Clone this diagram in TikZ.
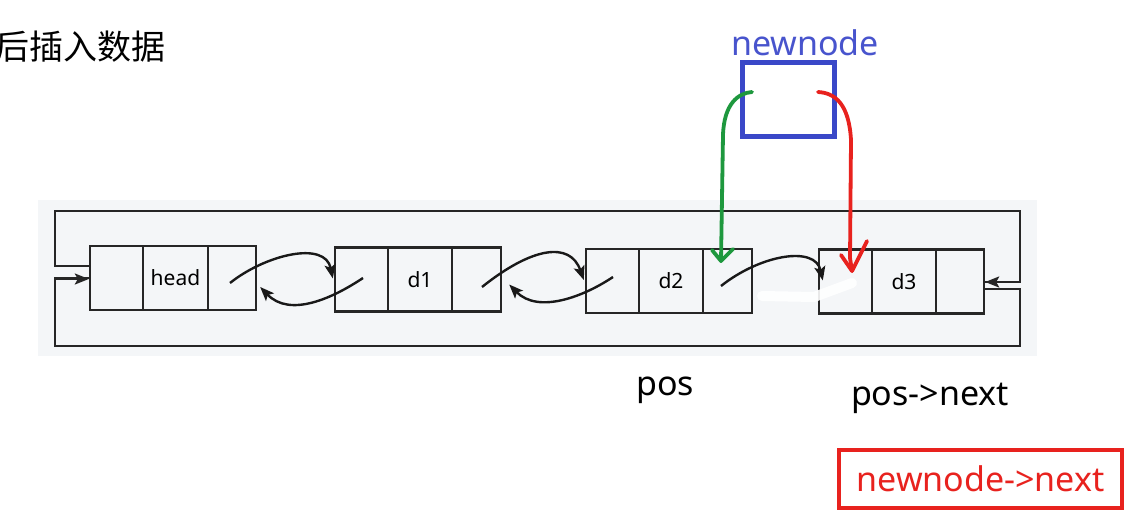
\documentclass[tikz,border=0pt]{standalone}
\usepackage{fontspec}
\setmainfont{Noto Sans}
\newfontfamily\cjk{Noto Sans CJK SC}
\usetikzlibrary{arrows.meta,calc}
\definecolor{panel}{HTML}{F4F6F8}
\definecolor{nblue}{RGB}{58,72,200}
\definecolor{ntext}{RGB}{72,84,205}
\definecolor{ngreen}{RGB}{30,152,62}
\definecolor{nred}{RGB}{232,34,30}
\tikzset{
  tip/.tip={Stealth[length=14pt,width=11pt,inset=3pt]},
  cell/.style={draw=black!85, line width=2.4pt, inner sep=0, minimum height=64, font=\fontsize{21}{24}\selectfont},
  link/.style={line width=2.4pt, draw=black!90, -tip},
  loopline/.style={line width=2.4pt, draw=black!85},
  biglabel/.style={inner sep=0, font=\fontsize{34}{40}\selectfont},
  pen/.style={line width=3.8pt, line cap=round, line join=round},
}
\begin{document}
\begin{tikzpicture}[x=1pt,y=-1pt]
\useasboundingbox (0,0) rectangle (1137,513);
\fill[white] (0,0) rectangle (1137,513);
\fill[panel] (38,200) rectangle (1037,356);

% list elements
\node[cell, minimum width=53] (hp) at (116.5,278) {};
\node[cell, minimum width=65] (hd) at (175.5,278) {head};
\node[cell, minimum width=48] (hn) at (232,278) {};

\node[cell, minimum width=53] (ap) at (361.5,279.5) {};
\node[cell, minimum width=64] (ad) at (420,279.5) {d1};
\node[cell, minimum width=49] (an) at (476.5,279.5) {};

\node[cell, minimum width=53] (bp) at (612.5,281) {};
\node[cell, minimum width=64] (bd) at (671,281) {d2};
\node[cell, minimum width=49] (bn) at (727.5,281) {};

\node[cell, minimum width=53] (cp) at (845.5,281.5) {};
\node[cell, minimum width=64] (cd) at (904,281.5) {d3};
\node[cell, minimum width=48] (cn) at (960,281.5) {};

% loop lines
\coordinate (lt) at (55,211);
\coordinate (rt) at (1020,211);
\coordinate (lb) at (55,346);
\coordinate (rb) at (1020,346);
\draw[loopline] ($(hp.west)+(0,-12)$) -| (lt) -- (rt) |- ($(cn.east)+(0,0.5)$);
\draw[loopline, -tip] ($(rt)+(0,71)$) -- ($(cn.east)+(0,0.5)$);
\draw[loopline] ($(cn.east)+(0,7.5)$) -| (rb) -- (lb) |- (hp.west);
\draw[loopline, -tip] ($(lb)+(0,-67)$) -- ($(hp.west)+(0,1)$);

% erased smear
\draw[white, opacity=0.9, line width=10pt, line cap=round, line join=round] (762,296) -- (814,297) -- (852,283);

% links
\coordinate (s1) at (230,283);
\coordinate (s2) at (363,278);
\coordinate (s3) at (482,287);
\coordinate (s4) at (613,277);
\coordinate (s5) at (721,286);
\draw[link] (s1) .. controls (265,255) and (325,240) .. ($(ap.west)+(-1,-1)$);
\draw[link] (s2) .. controls (333,298) and (290,318) .. ($(hn.east)+(3,9)$);
\draw[link] (s3) .. controls (532,247) and (570,241) .. ($(bp.west)+(-1,-1)$);
\draw[link] (s4) .. controls (583,297) and (538,314) .. ($(an.east)+(7,5)$);
\draw[link] (s5) .. controls (760,255) and (815,245) .. ($(cp.west)+(5,-1)$);

% newnode
\node[draw=nblue, line width=5pt, minimum width=92, minimum height=74, inner sep=0] (nn) at (788.5,99.5) {};
\node[biglabel, text=ntext] (nnl) at (805,43) {newnode};

\coordinate (gs) at (752,92);
\coordinate (gt) at (721,261);
\draw[pen, ngreen] (gs) .. controls (738,93) and (724,104) .. (723,135) -- (gt);
\draw[pen, ngreen] (712,250) -- (gt) -- (733,249);

\coordinate (rs) at (818,92);
\coordinate (rtp) at (852,271);
\draw[pen, nred] (rs) .. controls (836,93) and (849,105) .. (851,140) -- (850,258) -- (rtp);
\draw[pen, nred] (841,255) -- (rtp) -- (867,241);

% labels
\node[inner sep=0, anchor=base east, font=\cjk\fontsize{34}{40}\selectfont] (title) at (166,60) {后插入数据};
\node[biglabel] (pos) at (665,390) {pos};
\node[biglabel] (posn) at (930,398) {pos->next};
\node[draw=nred, line width=4pt, minimum width=283, minimum height=58, inner sep=0, text=nred, font=\fontsize{34}{40}\selectfont] (nnext) at (980.5,479) {newnode->next};
\end{tikzpicture}
\end{document}
